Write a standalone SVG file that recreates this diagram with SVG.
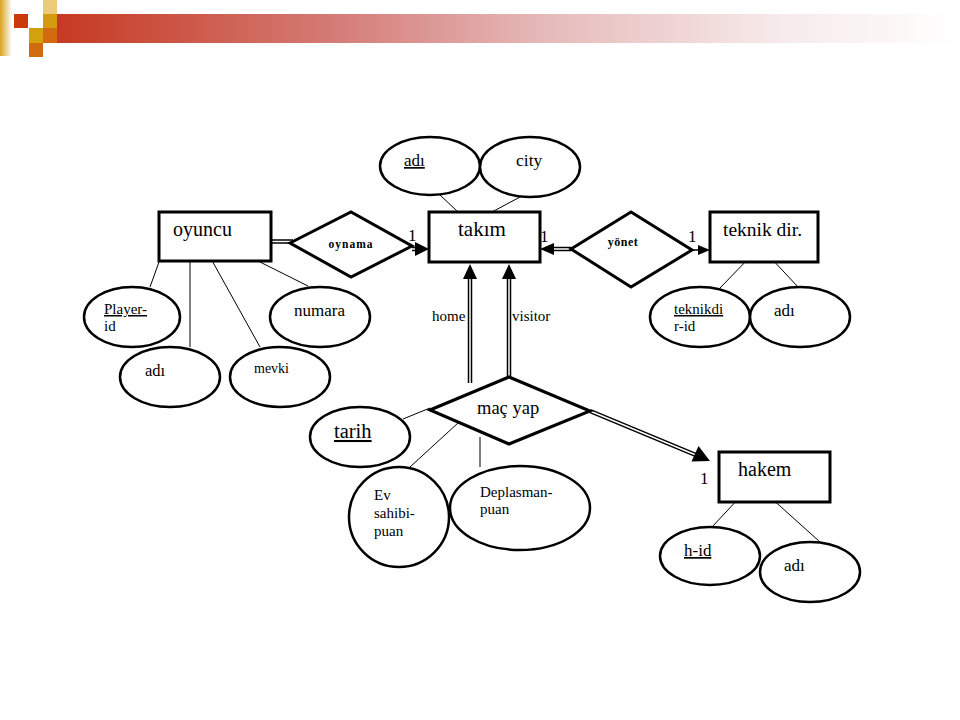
<svg xmlns="http://www.w3.org/2000/svg" width="960" height="720" viewBox="0 0 960 720">
<defs>
<linearGradient id="bar" x1="0" x2="1" y1="0" y2="0">
<stop offset="0" stop-color="#c63a22"/>
<stop offset="0.3" stop-color="#d47a74"/>
<stop offset="0.55" stop-color="#e6bcbc"/>
<stop offset="0.8" stop-color="#f7eaea"/>
<stop offset="1" stop-color="#ffffff"/>
</linearGradient>
<linearGradient id="strip" x1="0" x2="1" y1="0" y2="0">
<stop offset="0" stop-color="#d9a21e"/>
<stop offset="1" stop-color="#ffffff"/>
</linearGradient>
</defs>
<style>
.ent{fill:#fff;stroke:#000;stroke-width:3}
.rel{fill:#fff;stroke:#000;stroke-width:3;stroke-linejoin:miter}
.att{fill:#fff;stroke:#000;stroke-width:2.5}
.thin{stroke:#000;stroke-width:1;fill:none}
.dblo{stroke:#000;stroke-width:4.5;fill:none}
.dbli{stroke:#fff;stroke-width:1.5;fill:none}
.sgl{stroke:#000;stroke-width:1.5;fill:none}
.head{fill:#000;stroke:none}
.big{font-size:20px}
.med{font-size:17px}
.sm{font-size:15px}
.bold{font-size:11.5px;font-weight:bold;letter-spacing:1px}
.u{text-decoration:underline}
</style>
<rect width="960" height="720" fill="#fff"/>
<g id="header">
<rect x="0" y="0" width="12" height="56" fill="url(#strip)"/>
<rect x="57" y="14" width="903" height="29" fill="url(#bar)"/>
<rect x="14" y="14" width="14" height="14" fill="#cc3a0c"/>
<rect x="43" y="0" width="14" height="14" fill="#ecca7a"/>
<rect x="43" y="14" width="14" height="14" fill="#d49a10"/>
<rect x="29" y="28" width="14" height="15" fill="#d4a010"/>
<rect x="43" y="28" width="14" height="15" fill="#d46a10"/>
<rect x="29" y="43" width="14" height="14" fill="#d06a10"/>
</g>
<g id="connectors">
<line class="thin" x1="440" y1="195" x2="458" y2="212"/>
<line class="thin" x1="520" y1="197" x2="492" y2="212"/>
<line class="thin" x1="750" y1="257" x2="720" y2="288"/>
<line class="thin" x1="770" y1="257" x2="798" y2="287"/>
<line class="thin" x1="159" y1="262" x2="150" y2="287"/>
<line class="thin" x1="190" y1="258" x2="190" y2="347"/>
<line class="thin" x1="210" y1="257" x2="260" y2="347"/>
<line class="thin" x1="250" y1="257" x2="308" y2="286"/>
<line class="thin" x1="403" y1="419" x2="430" y2="408"/>
<line class="thin" x1="410" y1="467" x2="458" y2="423"/>
<line class="thin" x1="480" y1="437" x2="480" y2="467"/>
<line class="thin" x1="740" y1="497" x2="712" y2="527"/>
<line class="thin" x1="770" y1="497" x2="820" y2="542"/>
<path class="dblo" d="M271 241.5H293"/><path class="dbli" d="M271 241.5H293"/>
<path class="dblo" d="M412 249H417"/><path class="dbli" d="M412 249H417"/>
<polygon class="head" points="415,242 429,249 415,256"/>
<path class="dblo" d="M552 249H571"/><path class="dbli" d="M552 249H571"/>
<polygon class="head" points="554,243 540,249 554,255"/>
<line class="sgl" x1="692" y1="250" x2="700" y2="250"/>
<polygon class="head" points="698,245 710,250 698,255"/>
<path class="dblo" d="M470 278V383"/><path class="dbli" d="M470 278V383"/>
<polygon class="head" points="463,279 470,264 477,279"/>
<path class="dblo" d="M509 278V377"/><path class="dbli" d="M509 278V377"/>
<polygon class="head" points="502,279 509,264 516,279"/>
<path class="dblo" d="M590 411L697 455.5"/><path class="dbli" d="M590 411L697 455.5"/>
<polygon class="head" points="710,461 691.5,461.5 698.5,446"/>
</g>
<g font-family="'Liberation Serif', 'DejaVu Serif', serif" fill="#000">
<g id="oyuncu"><rect class="ent" x="159" y="212" width="112" height="49"/><text class="big" x="173" y="236">oyuncu</text></g>
<g id="oynama"><polygon class="rel" points="290,243 351,212 412,246 351,277"/><text class="bold" x="351" y="248" text-anchor="middle">oynama</text></g>
<g id="takim"><rect class="ent" x="429" y="212" width="111" height="50"/><text x="458" y="236" font-size="21">takım</text></g>
<g id="yonet"><polygon class="rel" points="571,249 631,212 692,250 631,287"/><text class="bold" x="623" y="246" text-anchor="middle" style="font-size:12px;letter-spacing:0.5px">yönet</text></g>
<g id="teknikdir"><rect class="ent" x="710" y="212" width="108" height="50"/><text x="723" y="236" font-size="19.5">teknik dir.</text></g>
<g id="labels">
<text class="med" x="408" y="241">1</text>
<text class="med" x="540" y="242">1</text>
<text class="med" x="688" y="242">1</text>
<text class="med" x="700" y="484">1</text>
<text class="sm" x="432" y="321">home</text>
<text class="sm" x="512" y="321">visitor</text>
</g>
<g id="takim-adi"><ellipse class="att" cx="430" cy="166" rx="50" ry="29"/><text class="med u" x="404" y="166">adı</text></g>
<g id="takim-city"><ellipse class="att" cx="530" cy="167" rx="50" ry="30"/><text x="516" y="166" font-size="17.5">city</text></g>
<g id="teknikdir-id"><ellipse class="att" cx="700" cy="317" rx="50" ry="30"/><text class="sm u" x="674" y="314">teknikdi</text><text class="sm" x="674" y="331">r-id</text></g>
<g id="teknikdir-adi"><ellipse class="att" cx="800" cy="317" rx="50" ry="30"/><text class="med" x="774" y="316">adı</text></g>
<g id="player-id"><ellipse class="att" cx="132" cy="317" rx="48" ry="30"/><text class="sm u" x="104" y="314">Player-</text><text class="sm" x="104" y="331">id</text></g>
<g id="numara"><ellipse class="att" cx="320" cy="317" rx="50" ry="30"/><text class="med" x="294" y="316">numara</text></g>
<g id="oyuncu-adi"><ellipse class="att" cx="170" cy="377" rx="50" ry="30"/><text x="145" y="376" font-size="16.5">adı</text></g>
<g id="mevki"><ellipse class="att" cx="280" cy="377" rx="50" ry="30"/><text x="254" y="373" font-size="14">mevki</text></g>
<g id="macyap"><polygon class="rel" points="430,410 509,377 590,411 509,444"/><text x="477" y="414" font-size="18.5">maç yap</text></g>
<g id="tarih"><ellipse class="att" cx="360" cy="437" rx="50" ry="30"/><text class="u" x="334" y="438" font-size="20.5">tarih</text></g>
<g id="ev-sahibi-puan"><ellipse class="att" cx="399" cy="517" rx="50" ry="50"/><text class="sm" x="374" y="500">Ev</text><text class="sm" x="374" y="518">sahibi-</text><text class="sm" x="374" y="536">puan</text></g>
<g id="deplasman-puan"><ellipse class="att" cx="520" cy="508" rx="70" ry="42"/><text class="sm" x="480" y="497">Deplasman-</text><text class="sm" x="480" y="514">puan</text></g>
<g id="hakem"><rect class="ent" x="719" y="452" width="111" height="50"/><text x="738" y="476" font-size="20">hakem</text></g>
<g id="h-id"><ellipse class="att" cx="710" cy="556" rx="50" ry="29"/><text class="med u" x="684" y="556">h-id</text></g>
<g id="hakem-adi"><ellipse class="att" cx="810" cy="572" rx="50" ry="30"/><text class="med" x="784" y="571">adı</text></g>
</g>
</svg>
